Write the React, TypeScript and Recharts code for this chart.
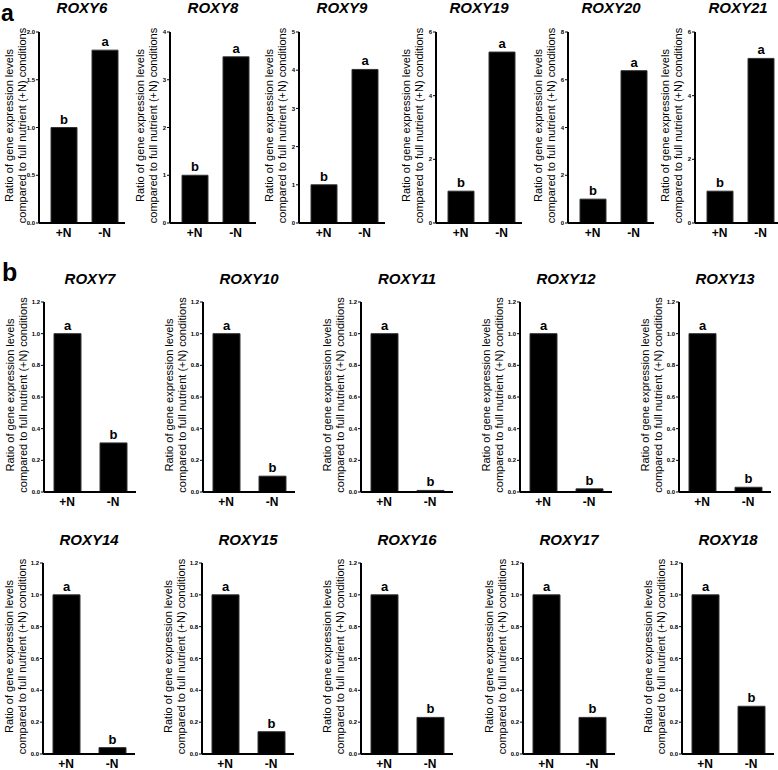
import { BarChart, Bar, XAxis, YAxis, LabelList, Label } from 'recharts';

const conditions = ['+N', '-N'];

// panel a: induced under -N
const genesA = ['ROXY6', 'ROXY8', 'ROXY9', 'ROXY19', 'ROXY20', 'ROXY21'];
const plusNA = [1, 1, 1, 1, 1, 1];
const minusNA = [1.81, 3.48, 4.02, 5.37, 6.38, 5.17];
const lettersA = ['b', 'a'];
const ticksA = [
  [0, 0.5, 1, 1.5, 2],
  [0, 1, 2, 3, 4],
  [0, 1, 2, 3, 4, 5],
  [0, 2, 4, 6],
  [0, 2, 4, 6, 8],
  [0, 2, 4, 6],
];
const decimalsA = [1, 0, 0, 0, 0, 0];

// panel b: repressed under -N
const genesB1 = ['ROXY7', 'ROXY10', 'ROXY11', 'ROXY12', 'ROXY13'];
const minusNB1 = [0.31, 0.1, 0.01, 0.02, 0.03];
const genesB2 = ['ROXY14', 'ROXY15', 'ROXY16', 'ROXY17', 'ROXY18'];
const minusNB2 = [0.04, 0.14, 0.23, 0.23, 0.3];
const plusNB = [1, 1, 1, 1, 1];
const lettersB = ['a', 'b'];
const ticksB = [0, 0.2, 0.4, 0.6, 0.8, 1.0, 1.2];

const FONT = '"Liberation Sans", Arial, Helvetica, sans-serif';
const YW = 40;
const MT = 12;
const XH = 24;

interface PanelProps {
  title: string;
  axisX: number;
  plotTop: number;
  plotH: number;
  plotW: number;
  values: number[];
  letters: string[];
  ticks: number[];
  decimals: number;
  barSize: number;
  padLeft: number;
  labelGap: number;
  titleBase: number;
}

function Panel(p: PanelProps) {
  const data = conditions.map((c, i) => ({ cond: c, value: p.values[i], letter: p.letters[i] }));
  const width = YW + p.plotW + 4;
  const height = MT + p.plotH + XH;
  const cy = MT + p.plotH / 2 - 2;
  const x1 = YW - p.labelGap;
  const x2 = x1 + 13;
  return (
    <>
      <div
        style={{
          position: 'absolute',
          left: p.axisX,
          width: p.plotW,
          top: p.titleBase - 13,
          textAlign: 'center',
          fontSize: 15,
          lineHeight: '15px',
          fontWeight: 'bold',
          fontStyle: 'italic',
          color: '#000',
        }}
      >
        {p.title}
      </div>
      <div style={{ position: 'absolute', left: p.axisX - YW, top: p.plotTop - MT }}>
        <BarChart width={width} height={height} data={data} margin={{ top: MT, right: 4, left: 0, bottom: 0 }}>
          <XAxis
            dataKey="cond"
            height={XH}
            tickSize={0}
            tickMargin={5}
            padding={{ left: p.padLeft, right: 0 }}
            axisLine={{ stroke: '#000', strokeWidth: 2 }}
            tickLine={false}
            tick={{ fontSize: 12, fontWeight: 'bold', fill: '#000', fontFamily: FONT }}
          />
          <YAxis
            width={YW}
            domain={[0, p.ticks[p.ticks.length - 1]]}
            ticks={p.ticks}
            interval={0}
            tickSize={3}
            tickMargin={1}
            tickFormatter={(v: number) => v.toFixed(p.decimals)}
            axisLine={{ stroke: '#000', strokeWidth: 2 }}
            tickLine={{ stroke: '#000', strokeWidth: 1 }}
            tick={{ fontSize: 6, fontWeight: 'bold', fill: '#000', fontFamily: FONT }}
          >
            <Label
              content={() => (
                <g fontFamily={FONT} fontSize={11} fill="#000">
                  <text x={x1} y={cy} textAnchor="middle" dominantBaseline="central" transform={`rotate(-90, ${x1}, ${cy})`}>
                    Ratio of gene expression levels
                  </text>
                  <text x={x2} y={cy} textAnchor="middle" dominantBaseline="central" transform={`rotate(-90, ${x2}, ${cy})`}>
                    compared to full nutrient (+N) conditions
                  </text>
                </g>
              )}
            />
          </YAxis>
          <Bar dataKey="value" fill="#000" stroke="#333" strokeWidth={1} barSize={p.barSize} isAnimationActive={false}>
            <LabelList
              dataKey="letter"
              position="top"
              offset={4}
              fontSize={13}
              fontWeight="bold"
              fill="#000"
              fontFamily={FONT}
            />
          </Bar>
        </BarChart>
      </div>
    </>
  );
}

const axisXA = [39, 170, 299, 436, 568, 695];
const axisXB1 = [44, 203, 361, 520, 679];
const axisXB2 = [43, 202, 361, 523, 682];

export default function App() {
  return (
    <div
      style={{
        position: 'absolute',
        left: 0,
        top: 0,
        width: 778,
        height: 770,
        background: '#fff',
        fontFamily: FONT,
        overflow: 'hidden',
      }}
    >
      <div style={{ position: 'absolute', left: 1, top: 0, fontSize: 23, fontWeight: 'bold', lineHeight: 'normal' }}>a</div>
      <div style={{ position: 'absolute', left: 2, top: 258, fontSize: 25, fontWeight: 'bold', lineHeight: 'normal' }}>b</div>
      {genesA.map((g, i) => (
        <Panel
          key={g}
          title={g}
          axisX={axisXA[i]}
          plotTop={32}
          plotH={191}
          plotW={86}
          values={[plusNA[i], minusNA[i]]}
          letters={lettersA}
          ticks={ticksA[i]}
          decimals={decimalsA[i]}
          barSize={26}
          padLeft={4}
          labelGap={30}
          titleBase={13}
        />
      ))}
      {genesB1.map((g, i) => (
        <Panel
          key={g}
          title={g}
          axisX={axisXB1[i]}
          plotTop={302}
          plotH={190}
          plotW={92}
          values={[plusNB[i], minusNB1[i]]}
          letters={lettersB}
          ticks={ticksB}
          decimals={1}
          barSize={27}
          padLeft={0}
          labelGap={34}
          titleBase={284}
        />
      ))}
      {genesB2.map((g, i) => (
        <Panel
          key={g}
          title={g}
          axisX={axisXB2[i]}
          plotTop={563}
          plotH={191}
          plotW={92}
          values={[plusNB[i], minusNB2[i]]}
          letters={lettersB}
          ticks={ticksB}
          decimals={1}
          barSize={27}
          padLeft={0}
          labelGap={34}
          titleBase={545}
        />
      ))}
    </div>
  );
}
